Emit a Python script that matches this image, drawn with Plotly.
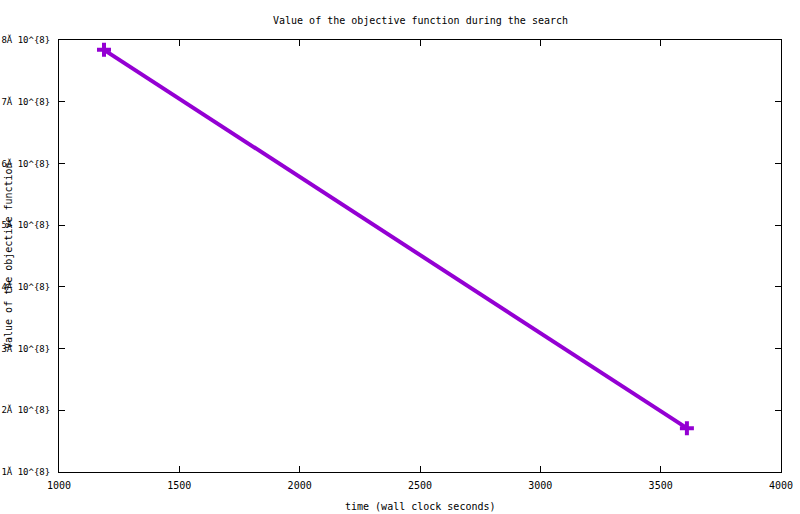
import plotly.graph_objs as go

# данные
time_sec = [1187, 3609]
objective = [7.84e8, 1.71e8]

y_tick_vals = [1e8, 2e8, 3e8, 4e8, 5e8, 6e8, 7e8, 8e8]
y_tick_text = ['1Ă 10^{8}', '2Ă 10^{8}', '3Ă 10^{8}', '4Ă 10^{8}',
               '5Ă 10^{8}', '6Ă 10^{8}', '7Ă 10^{8}', '8Ă 10^{8}']
x_tick_vals = [1000, 1500, 2000, 2500, 3000, 3500, 4000]

mono = 'DejaVu Sans Mono'

fig = go.Figure()
fig.add_trace(go.Scatter(x=time_sec, y=objective, mode='lines+markers',
                         line=dict(color='#9400d3', width=4),
                         marker=dict(symbol='cross-thin', size=10, color='#9400d3',
                                     line=dict(color='#9400d3', width=4)),
                         showlegend=False))

axis_style = dict(showline=True, linecolor='black', linewidth=1, mirror='allticks',
                  ticks='inside', ticklen=6, tickcolor='black', showgrid=False,
                  zeroline=False, automargin=False)

fig.update_xaxes(range=[1000, 4000], tickvals=x_tick_vals, ticklabelstandoff=4,
                 tickfont=dict(family=mono, size=10, color='black'), **axis_style)
fig.update_yaxes(range=[1e8, 8e8], tickvals=y_tick_vals, ticktext=y_tick_text,
                 ticklabelstandoff=6, tickfont=dict(family=mono, size=9, color='black'),
                 **axis_style)

fig.update_layout(width=800, height=514, plot_bgcolor='white', paper_bgcolor='white',
                  margin=dict(l=59, r=19, t=40, b=42),
                  font=dict(family=mono, size=10, color='black'),
                  annotations=[
                      dict(text='Value of the objective function during the search',
                           xref='paper', yref='paper', x=0.5, y=1, yshift=20,
                           showarrow=False, xanchor='center', yanchor='middle'),
                      dict(text='time (wall clock seconds)', xref='paper', yref='paper',
                           x=0.5, y=0, yshift=-34, showarrow=False,
                           xanchor='center', yanchor='middle'),
                      dict(text='Value of the objective function', xref='paper', yref='paper',
                           x=0, y=0.5, xshift=-51, textangle=-90, showarrow=False,
                           xanchor='center', yanchor='middle'),
                  ])

# убрать отступ body, чтобы картинка легла ровно в окно
fig.write_html('out.html', config={'displayModeBar': False},
               post_script="document.body.style.margin='0';")
